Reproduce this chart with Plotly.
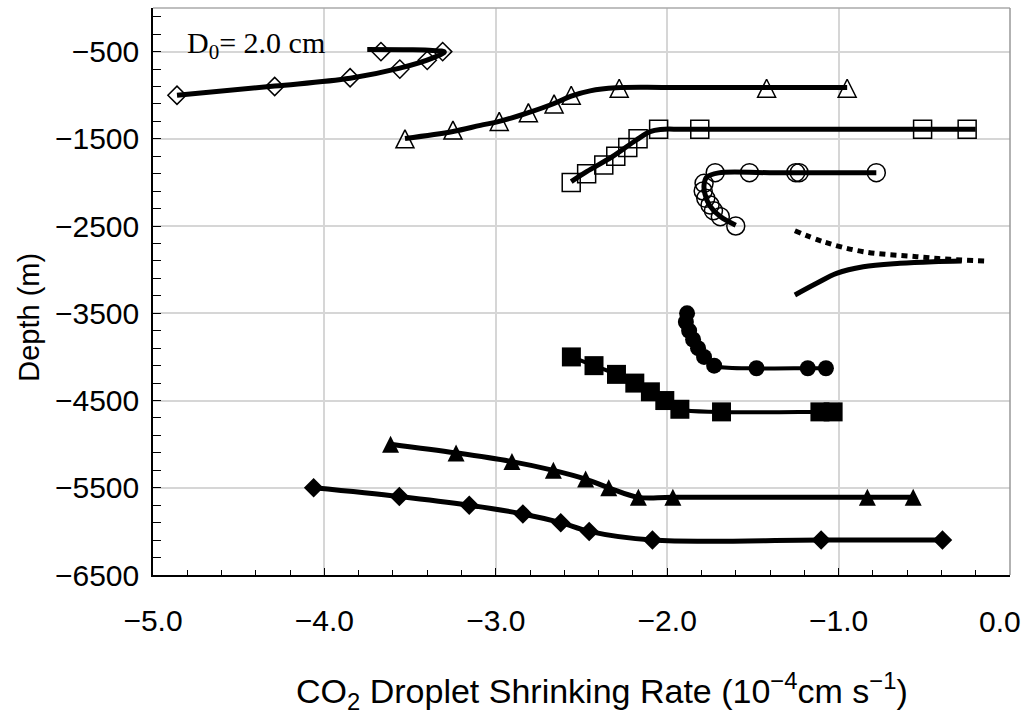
import plotly.graph_objects as go

# ---- axis ticks ----
x_ticks = [-5, -4, -3, -2, -1, 0]
x_labels = ["\u22125.0", "\u22124.0", "\u22123.0", "\u22122.0", "\u22121.0", ""]
x_end_label = "0.0"
y_ticks = [-6500, -5500, -4500, -3500, -2500, -1500, -500]
y_labels = ["\u22126500", "\u22125500", "\u22124500", "\u22123500", "\u22122500", "\u22121500", "\u2212500"]

# ---- open diamonds (D0 = 2.0 cm, shallow) ----
od_x = [-4.86, -4.29, -3.85, -3.56, -3.40, -3.31, -3.67]
od_d = [-1000, -900, -800, -700, -600, -500, -500]
od_cx = [-3.75, -3.52, -3.37, -3.30, -3.37, -3.56, -3.85, -4.29, -4.86]
od_cd = [-476, -478, -486, -505, -575, -690, -805, -895, -1000]

# ---- open triangles ----
ot_x = [-3.53, -3.25, -2.98, -2.81, -2.66, -2.56, -2.28, -1.42, -0.95]
ot_d = [-1500, -1400, -1300, -1200, -1100, -1000, -920, -920, -920]
ot_cx = [-3.53, -3.25, -3.09, -2.98, -2.81, -2.66, -2.56, -2.45, -2.30, -2.00, -0.95]
ot_cd = [-1495, -1415, -1345, -1300, -1200, -1095, -1010, -950, -915, -910, -910]

# ---- open squares ----
os_x = [-2.56, -2.47, -2.37, -2.30, -2.23, -2.17, -2.05, -1.81, -0.51, -0.25]
os_d = [-2000, -1900, -1800, -1700, -1600, -1500, -1390, -1390, -1390, -1390]
os_cx = [-2.56, -2.47, -2.32, -2.18, -2.10, -2.04, -1.90, -1.00, -0.20]
os_cd = [-1990, -1876, -1705, -1513, -1418, -1392, -1390, -1390, -1390]

# ---- open circles ----
oc_x = [-1.72, -1.52, -1.25, -1.23, -0.78, -1.785, -1.79, -1.775, -1.75, -1.73, -1.69, -1.60]
oc_d = [-1888, -1888, -1888, -1888, -1888, -2010, -2098, -2182, -2258, -2324, -2392, -2499]
oc_cx = [-0.78, -1.40, -1.70, -1.77, -1.785, -1.78, -1.75, -1.69, -1.60]
oc_cd = [-1888, -1888, -1890, -1940, -2030, -2130, -2270, -2390, -2490]

# ---- curves without symbols ----
dash_x = [-1.255, -1.09, -0.856, -0.545, -0.35, -0.146]
dash_d = [-2553, -2679, -2794, -2851, -2881, -2900]
solid_x = [-1.255, -1.128, -1.012, -0.856, -0.642, -0.448, -0.282]
solid_d = [-3290, -3156, -3042, -2966, -2927, -2908, -2900]

# ---- filled circles ----
fc_x = [-1.884, -1.891, -1.872, -1.849, -1.82, -1.785, -1.726, -1.479, -1.18, -1.074]
fc_d = [-3500, -3600, -3700, -3800, -3900, -4000, -4100, -4130, -4130, -4130]

# ---- filled squares ----
fs_x = [-2.559, -2.427, -2.296, -2.189, -2.098, -2.014, -1.926, -1.683, -1.109, -1.032]
fs_d = [-4000, -4100, -4200, -4300, -4400, -4500, -4600, -4630, -4630, -4630]

# ---- filled triangles ----
ft_x = [-3.614, -3.232, -2.906, -2.664, -2.476, -2.341, -2.168, -1.967, -0.832, -0.565]
ft_d = [-5000, -5100, -5200, -5300, -5400, -5500, -5610, -5610, -5610, -5610]

# ---- filled diamonds ----
fd_x = [-4.063, -3.563, -3.155, -2.842, -2.621, -2.455, -2.086, -1.102, -0.394]
fd_d = [-5500, -5600, -5700, -5800, -5900, -6000, -6100, -6100, -6100]

SANS = "Liberation Sans, Arial, sans-serif"
SERIF = "Liberation Serif, Times New Roman, serif"

fig = go.Figure()


def curve(x, y, width=5, dash="solid"):
    fig.add_trace(go.Scatter(
        x=x, y=y, mode="lines",
        line=dict(color="black", width=width, shape="spline", smoothing=1, dash=dash),
        hoverinfo="skip", showlegend=False))


def marks(x, y, symbol, size, lw=1.5, **extra):
    m = dict(symbol=symbol, size=size, color="black", line=dict(color="black", width=lw))
    m.update(extra)
    fig.add_trace(go.Scatter(x=x, y=y, mode="markers", marker=m,
                             hoverinfo="skip", showlegend=False))


# upward triangle of equal width and height, centred on the point
TRI = dict(angle=180)

curve(od_cx, od_cd)
marks(od_x, od_d, "diamond-open", 14)

curve(ot_cx, ot_cd)
marks(ot_x, ot_d, "arrow-down-open", 18, standoff=9, **TRI)

curve(os_cx, os_cd)
marks(os_x, os_d, "square-open", 18)

curve(oc_cx, oc_cd)
marks(oc_x, oc_d, "circle-open", 18)

curve(dash_x, dash_d, width=5, dash="6px,5px")
curve(solid_x, solid_d)

curve(fc_x, fc_d, width=4)
marks(fc_x, fc_d, "circle", 16, lw=0)

curve(fs_x, fs_d, width=4)
marks(fs_x, fs_d, "square", 19, lw=0)

curve(ft_x, ft_d)
marks(ft_x, ft_d, "arrow-down", 17, lw=0, standoff=8.5, **TRI)

curve(fd_x, fd_d)
marks(fd_x, fd_d, "diamond", 15, lw=0)

GRID = "#d6d6d6"

fig.update_layout(
    width=1029, height=715,
    margin=dict(l=153, r=19, t=8, b=140, autoexpand=False),
    paper_bgcolor="white", plot_bgcolor="white",
    font=dict(family=SANS, color="black"),
    xaxis=dict(
        range=[-5, 0], tickmode="array", tickvals=x_ticks, ticktext=x_labels,
        automargin=False,
        showline=True, linecolor="black", linewidth=2,
        ticks="inside", ticklen=7, tickcolor="black", tickwidth=1,
        showgrid=True, gridcolor=GRID, gridwidth=1.5, zeroline=False,
        minor=dict(tick0=-5, dtick=0.2, ticks="inside", ticklen=5,
                   tickcolor="black", tickwidth=1, showgrid=False),
        tickfont=dict(size=30, family=SANS),
        ticklabelstandoff=18,
    ),
    yaxis=dict(
        range=[-6500, 0], tickmode="array", tickvals=y_ticks, ticktext=y_labels,
        automargin=False,
        showline=True, linecolor="black", linewidth=1.5,
        ticks="inside", ticklen=8, tickcolor="black", tickwidth=1,
        showgrid=True, gridcolor=GRID, gridwidth=1.5, zeroline=False,
        minor=dict(tick0=-6500, dtick=200, ticks="inside", ticklen=8,
                   tickcolor="black", tickwidth=1, showgrid=False),
        tickfont=dict(size=30, family=SANS),
        ticklabelstandoff=6,
    ),
    shapes=[
        dict(type="line", xref="paper", yref="paper", x0=0, x1=1, y0=1, y1=1,
             line=dict(color="#aaaaaa", width=1.5)),
        dict(type="line", xref="paper", yref="paper", x0=1, x1=1, y0=0, y1=1,
             line=dict(color="#999999", width=1.5)),
    ],
    annotations=[
        # end label of the x axis, kept inside the page edge
        dict(text=x_end_label, xref="x", yref="paper", x=x_ticks[-1], y=-0.082,
             xanchor="right", yanchor="middle", xshift=13, showarrow=False,
             font=dict(size=30, family=SANS)),
        dict(text="CO<sub>2</sub> Droplet Shrinking Rate (10<sup>\u22124</sup>cm s<sup>\u22121</sup>)",
             xref="paper", yref="paper", x=0.524, y=-0.204,
             xanchor="center", yanchor="middle", showarrow=False,
             font=dict(size=34, family=SANS)),
        dict(text="Depth (m)", xref="paper", yref="paper", x=-0.145, y=0.455,
             xanchor="center", yanchor="middle", textangle=-90, showarrow=False,
             font=dict(size=29, family=SANS)),
        dict(text="D<sub>0</sub>= 2.0 cm", xref="paper", yref="paper", x=0.037, y=0.935,
             xanchor="left", yanchor="middle", showarrow=False,
             font=dict(size=30, family=SERIF)),
    ],
)

fig.write_html("out.html")
